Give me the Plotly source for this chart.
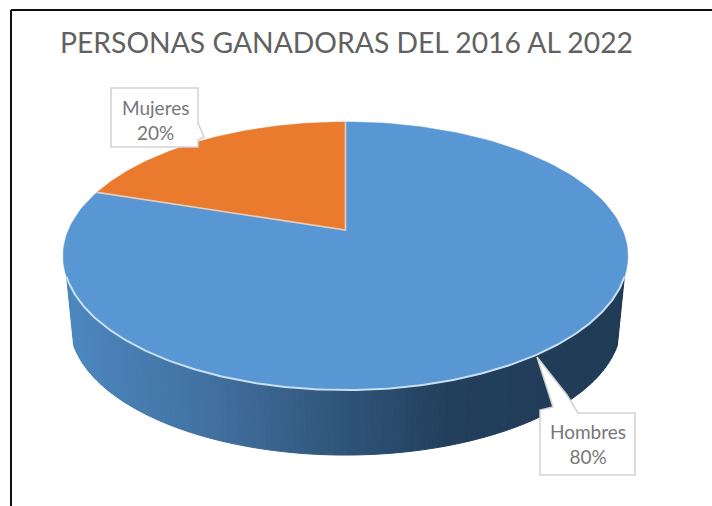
import numpy as np
import plotly.graph_objects as go

# data
title_text = "PERSONAS GANADORAS DEL 2016 AL 2022"
categories = ["Hombres", "Mujeres"]
values = [80, 20]
slice_colors = ["#5896d4", "#ea7a2e"]

# projected pie geometry (pixel-like axis units)
W, H = 712, 506
AX, AY = 345.5, 230.0          # projected pie centre
A, B, K = 277.0, 129.0, 0.194  # half-width, half-height, perspective
DEPTH_Y0, DEPTH_S = 299.0, 0.975


def project(theta, x0=AX, y0=AY, s=1.0):
    """theta: clockwise angle from 12 o'clock, on the pie's own plane."""
    u, v = np.sin(theta), np.cos(theta)
    w = 1 + K * v
    return x0 + s * A * u / w, y0 - s * B * v / w


fracs = np.cumsum([0] + values) / sum(values)
fig = go.Figure()

# side wall, as shaded strips along the front of the pie
wall_stops_x = [60, 200, 345, 450, 640]
wall_stops_rgb = np.array([[76, 136, 192], [66, 114, 162], [47, 84, 120], [34, 63, 92], [31, 58, 85]])
# angles: from the right end of the wall round the front to the left one
th_start = np.arccos(-0.34)
th_end = 2 * np.pi - th_start
edges = np.linspace(th_start, th_end, 141)
bx, by = project(edges, y0=DEPTH_Y0, s=DEPTH_S)
tx, ty = project(edges)
for i in range(len(edges) - 1):
    xm = (tx[i] + tx[i + 1]) / 2
    rgb = [np.interp(xm, wall_stops_x, wall_stops_rgb[:, c]) for c in range(3)]
    col = f"rgb({rgb[0]:.0f},{rgb[1]:.0f},{rgb[2]:.0f})"
    fig.add_trace(go.Scatter(
        x=[tx[i], tx[i + 1], bx[i + 1], bx[i], tx[i]],
        y=[ty[i], ty[i + 1], by[i + 1], by[i], ty[i]],
        mode="lines", fill="toself", fillcolor=col,
        line=dict(color=col, width=1), hoverinfo="skip", showlegend=False))

# top face slices
for i, cat in enumerate(categories):
    th = 2 * np.pi * np.linspace(fracs[i], fracs[i + 1], 160)
    x, y = project(th)
    fig.add_trace(go.Scatter(
        x=np.r_[AX, x, AX], y=np.r_[AY, y, AY],
        mode="lines", fill="toself", fillcolor=slice_colors[i],
        line=dict(color=slice_colors[i], width=0.5),
        name=cat, hoverinfo="skip", showlegend=False))

# light edges: radial boundaries of the small slice and the front rim
th_a, th_b = 2 * np.pi * fracs[1], 2 * np.pi * fracs[2]
xa, ya = project(np.array([th_a]))
xb, yb = project(np.array([th_b]))
fig.add_trace(go.Scatter(
    x=[xa[0], AX, xb[0]], y=[ya[0], AY, yb[0]], mode="lines",
    line=dict(color="#e3cfc0", width=1.6), hoverinfo="skip", showlegend=False))
rx, ry = project(np.linspace(th_start, th_end, 200))
fig.add_trace(go.Scatter(
    x=rx, y=ry, mode="lines", line=dict(color="#c9dff2", width=2),
    hoverinfo="skip", showlegend=False))

box_line = dict(color="#d2d2d2", width=1.5)
shapes = [
    # frame
    dict(type="line", x0=11, x1=W + 5, y0=10, y1=10, line=dict(color="#111111", width=2)),
    dict(type="line", x0=11, x1=11, y0=10, y1=H + 5, line=dict(color="#111111", width=2)),
    # callouts
    dict(type="path", layer="above", line=box_line, fillcolor="white",
         path="M111,88 L198,88 L198,123 L204,137 L198,140 L198,147 L111,147 Z"),
    dict(type="path", layer="above", line=box_line, fillcolor="white",
         path="M540,413 L540,410 L553,407 L537,357 L567,395 L578,413 L635,413 L635,475 L540,475 Z"),
]

annotations = [
    dict(x=155, y=120, text=f"{categories[1]}<br>{values[1]}%"),
    dict(x=588, y=444, text=f"{categories[0]}<br>{values[0]}%"),
]
for a in annotations:
    a.update(xref="x", yref="y", showarrow=False, align="center",
             font=dict(family="Lato", size=19, color="#777777"))

fig.update_layout(
    width=W, height=H, margin=dict(l=0, r=0, t=0, b=0),
    paper_bgcolor="white", plot_bgcolor="white", showlegend=False,
    title=dict(text=title_text, x=60 / W, xanchor="left", xref="paper",
               y=1 - 43 / H, yanchor="middle", yref="paper",
               font=dict(family="Lato", size=28.3, color="#616161")),
    xaxis=dict(range=[0, W], visible=False, fixedrange=True),
    yaxis=dict(range=[H, 0], visible=False, fixedrange=True),
    shapes=shapes, annotations=annotations,
)
fig.write_html("out.html", config=dict(displayModeBar=False),
               post_script="document.body.style.margin='0';document.body.style.overflow='hidden';")
